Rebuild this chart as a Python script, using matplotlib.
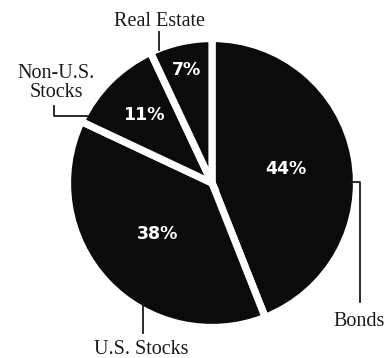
import numpy as np
import matplotlib.pyplot as plt

labels = ["Bonds", "U.S. Stocks", "Non-U.S.\nStocks", "Real Estate"]
shares = [44, 38, 11, 7]
# how far out each percentage sits, as a fraction of the radius
pct_dist = [0.52, 0.52, 0.67, 0.80]

fig = plt.figure(figsize=(3.9, 3.58), dpi=100)
ax = fig.add_axes([0, 0, 1, 1])

# work in pixel-like units, y pointing up
cx, cy, r = 212, 358 - 183, 144.5
wedges, _ = ax.pie(shares, radius=r, center=(cx, cy), startangle=90,
                   counterclock=False, colors=["#0b0b0b"] * 4,
                   wedgeprops=dict(edgecolor="white", linewidth=5.2))

for w, s, d in zip(wedges, shares, pct_dist):
    mid = np.deg2rad((w.theta1 + w.theta2) / 2)
    ax.text(cx + d * r * np.cos(mid), cy + d * r * np.sin(mid), f"{s}%",
            color="white", fontsize=12.5, fontweight="bold",
            family="DejaVu Sans", ha="center", va="center")

serif = dict(family="Liberation Serif", fontsize=14.5, color="#1a1a1a",
             ha="center", va="center", linespacing=0.95)
ax.text(160, 358 - 22, labels[3], **serif)
ax.text(56, 358 - 83, labels[2], **serif)
ax.text(359, 358 - 322, labels[0], **serif)
ax.text(141, 358 - 349, labels[1], **serif)

# leader lines
line = dict(color="#1a1a1a", lw=1.3, zorder=5)
ax.plot([159, 159], [358 - 32, 358 - 50], **line)
ax.plot([54, 54, 88], [358 - 106, 358 - 116, 358 - 116], **line)
ax.plot([351, 360, 360], [358 - 182, 358 - 182, 358 - 302], **line)
ax.plot([143, 143], [358 - 304, 358 - 333], **line)

ax.set_xlim(0, 390)
ax.set_ylim(0, 358)
ax.set_aspect("equal")
ax.axis("off")

fig.savefig("out.png", dpi=100)
